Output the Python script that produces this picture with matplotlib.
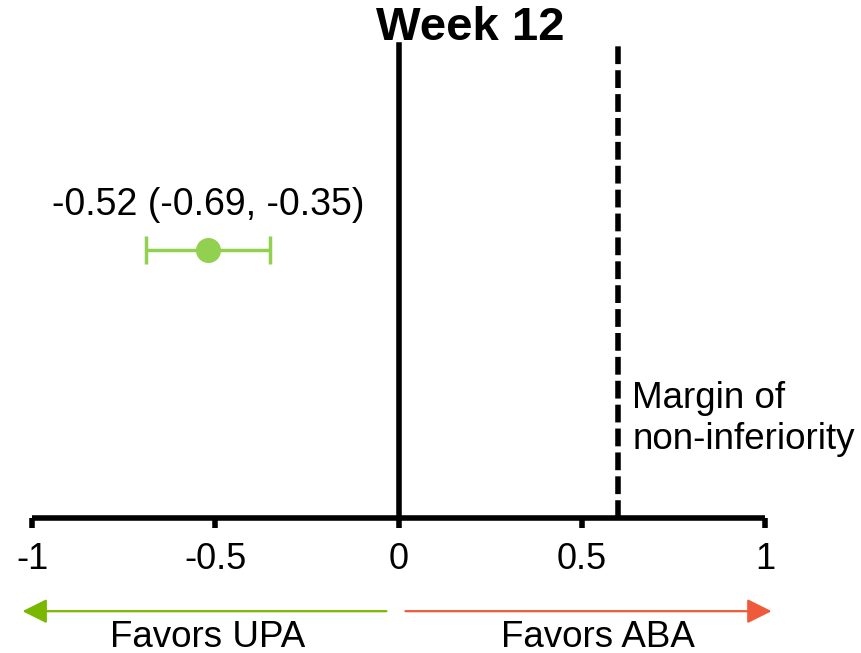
import matplotlib
matplotlib.use("Agg")
import matplotlib.pyplot as plt

# week 12 estimate with 95% CI
estimate = [-0.52]
ci_low = [-0.69]
ci_high = [-0.35]
point_labels = ["-0.52 (-0.69, -0.35)"]

margin = 0.6
xticks = [-1, -0.5, 0, 0.5, 1]
xtick_labels = ["-1", "-0.5", "0", "0.5", "1"]

GREEN = "#92D050"
ARROW_GREEN = "#7AB800"
ARROW_RED = "#EE5A3A"

plt.rcParams["font.family"] = ["Liberation Sans", "DejaVu Sans"]
plt.rcParams["font.size"] = 26

fig = plt.figure(figsize=(8.61, 6.53), dpi=100)
ax = fig.add_axes([32 / 861, 1 - 518 / 653, (765 - 32) / 861, 473 / 653])
ax.set_xlim(-1, 1)
ax.set_ylim(0, 1)

for side in ("left", "right", "top"):
    ax.spines[side].set_visible(False)
ax.spines["bottom"].set_linewidth(4)
ax.spines["bottom"].set_capstyle("butt")
ax.set_yticks([])
ax.set_xticks(xticks)
ax.set_xticklabels(xtick_labels)
ax.tick_params(axis="x", direction="out", length=7, width=4, pad=10, labelsize=26)

# reference lines: no difference and the non-inferiority margin
ax.axvline(0, ymin=0, ymax=1, color="black", lw=4, clip_on=False)
ax.axvline(margin, ymin=0, ymax=1, color="black", lw=4,
           linestyle=(0, (3.2, 1.1)), clip_on=False)
ax.annotate("Margin of\nnon-inferiority", xy=(margin, 0.209), xytext=(10, 0),
            textcoords="offset points", ha="left", va="center",
            fontsize=26.5, linespacing=1.2)

y_pos = 0.567
xerr = [[e - lo for e, lo in zip(estimate, ci_low)],
        [hi - e for e, hi in zip(estimate, ci_high)]]
ax.errorbar(estimate, [y_pos], xerr=xerr, fmt="o", color=GREEN,
            ecolor=GREEN, elinewidth=2.5, capsize=10, capthick=2.5,
            markersize=17, clip_on=False)
ax.text(estimate[0], 0.662, point_labels[0], ha="center", va="center", fontsize=27)

# direction arrows under the axis
arrow_style = "-|>,head_length=1.5,head_width=0.75"
ax.annotate("", xy=(-1.026, -0.197), xytext=(-0.033, -0.197),
            xycoords=("data", "axes fraction"), textcoords=("data", "axes fraction"),
            arrowprops=dict(arrowstyle=arrow_style, color=ARROW_GREEN, lw=1.6,
                            mutation_scale=10, shrinkA=0, shrinkB=0))
ax.annotate("", xy=(1.018, -0.197), xytext=(0.019, -0.197),
            xycoords=("data", "axes fraction"), textcoords=("data", "axes fraction"),
            arrowprops=dict(arrowstyle=arrow_style, color=ARROW_RED, lw=1.6,
                            mutation_scale=10, shrinkA=0, shrinkB=0))
ax.text(-0.52, -0.252, "Favors UPA", transform=ax.get_xaxis_transform(),
        ha="center", va="center", fontsize=26.5)
ax.text(0.545, -0.252, "Favors ABA", transform=ax.get_xaxis_transform(),
        ha="center", va="center", fontsize=26.5)

fig.text(470 / 861, 1 - 28 / 653, "Week 12", ha="center", va="center",
         fontsize=34, fontweight="bold")

fig.savefig("out.png", dpi=100)
